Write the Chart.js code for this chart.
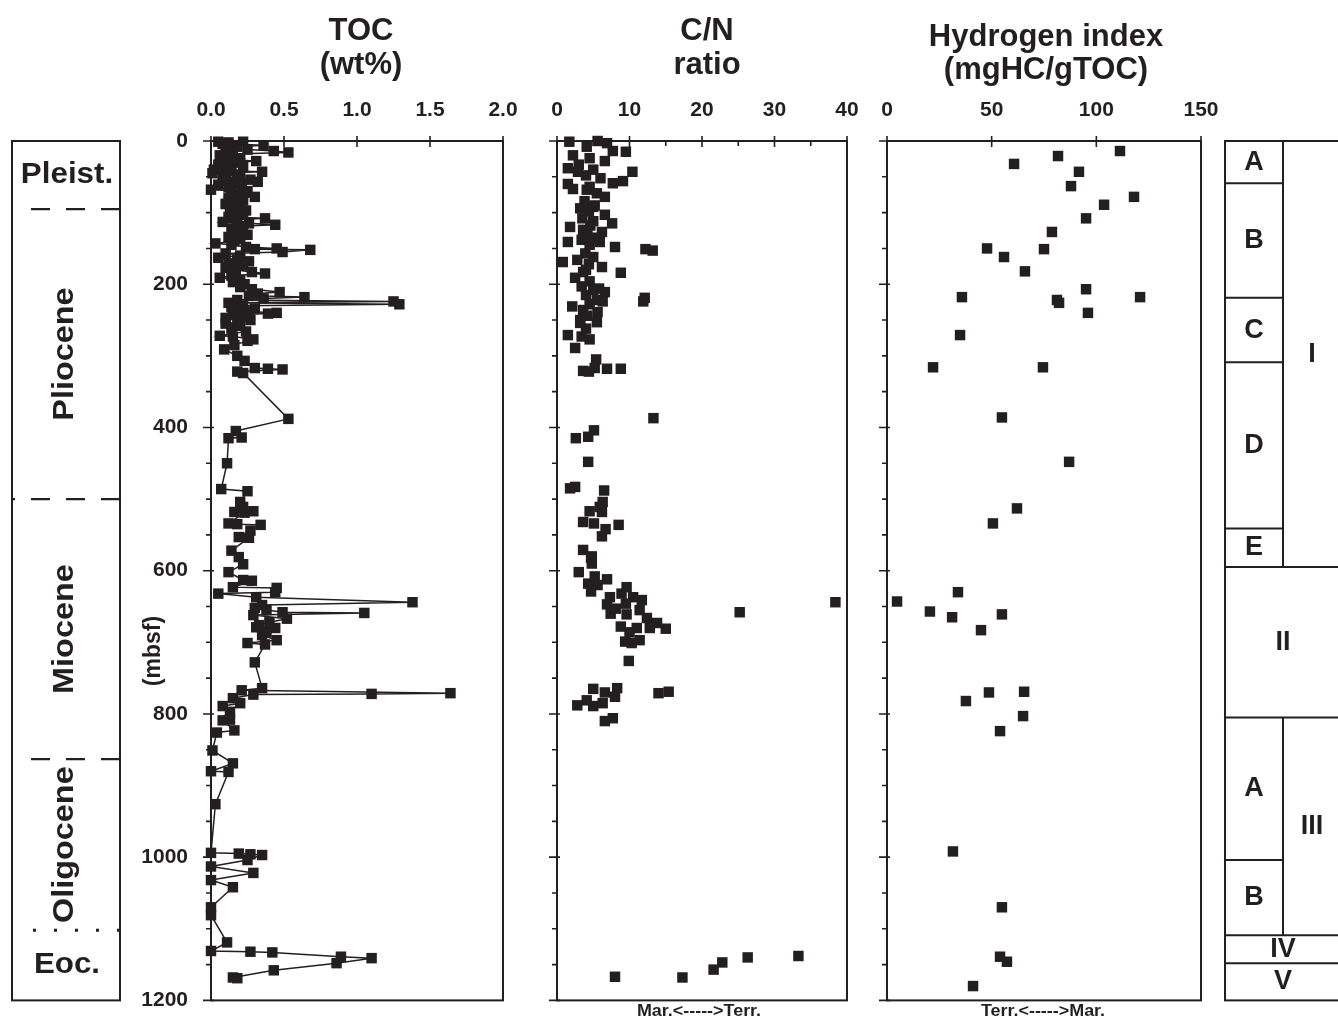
<!DOCTYPE html>
<html><head><meta charset="utf-8">
<script src="https://cdn.jsdelivr.net/npm/chart.js@4/dist/chart.umd.min.js"></script>
<style>
html,body{margin:0;padding:0;background:#fff;}
#wrap{position:relative;width:1338px;height:1021px;overflow:hidden;background:#fff;}
canvas{position:absolute;left:0;top:0;}
</style></head><body>
<div id="wrap">
<canvas id="c1" width="1338" height="1036"></canvas>
<canvas id="c2" width="1338" height="1036"></canvas>
<canvas id="c3" width="1338" height="1036"></canvas>
</div>
<script>
// ---------------- DATA ----------------
const depthMin = 0, depthMax = 1200;
const tocTicks = [0, 0.5, 1.0, 1.5, 2.0];
const cnTicks = [0, 10, 20, 30, 40];
const hiTicks = [0, 50, 100, 150];

const tocDepths = [1,1,2,4,6,8,10,12,14,16,18,20,22,24,26,28,30,33,35,38,40,42,43,45,47,49,52,54,56,57,59,61,63,65,68,70,72,75,78,80,83,86,88,91,94,97,100,103,106,108,110,113,115,117,119,122,125,128,131,134,137,140,143,145,148,150,151,152,155,157,160,163,166,168,171,174,177,180,183,185,188,191,194,197,200,204,207,211,213,216,218,220,222,224,226,228,230,232,234,236,238,240,241,243,245,247,250,253,255,258,262,266,272,273,277,279,285,291,300,307,317,318,319,322,324,388,405,414,415,450,486,489,504,511,517,518,519,534,535,536,544,553,554,572,581,591,602,613,614,623,624,630,632,637,644,648,652,655,658,659,662,667,672,676,679,680,686,690,697,701,703,728,764,767,771,772,773,778,785,789,797,808,809,823,826,851,869,880,881,926,994,995,996,997,1004,1013,1022,1032,1042,1070,1081,1119,1131,1132,1133,1139,1141,1148,1158,1168,1169];
const tocValues = [0.05,0.22,0.12,0.08,0.36,0.18,0.10,0.25,0.43,0.53,0.15,0.06,0.12,0.20,0.09,0.31,0.16,0.05,0.22,0.11,0.02,0.14,0.35,0.01,0.20,0.08,0.18,0.27,0.10,0.32,0.15,0.05,0.21,0.12,0.00,0.25,0.14,0.19,0.30,0.12,0.22,0.16,0.10,0.20,0.13,0.24,0.15,0.22,0.12,0.37,0.18,0.08,0.26,0.44,0.20,0.14,0.22,0.17,0.25,0.12,0.20,0.16,0.03,0.14,0.24,0.45,0.30,0.68,0.49,0.10,0.20,0.05,0.18,0.26,0.12,0.22,0.10,0.17,0.28,0.37,0.14,0.06,0.20,0.15,0.23,0.20,0.28,0.47,0.32,0.26,0.64,0.36,0.18,1.25,0.12,1.29,0.22,0.14,0.30,0.20,0.26,0.45,0.39,0.15,0.22,0.10,0.27,0.18,0.10,0.20,0.14,0.24,0.06,0.15,0.29,0.25,0.16,0.09,0.18,0.23,0.30,0.39,0.49,0.18,0.22,0.53,0.17,0.21,0.12,0.11,0.07,0.25,0.20,0.22,0.29,0.16,0.23,0.12,0.18,0.34,0.27,0.19,0.26,0.14,0.19,0.22,0.12,0.22,0.28,0.15,0.45,0.44,0.05,0.31,1.38,0.35,0.30,0.38,0.49,1.05,0.29,0.52,0.40,0.33,0.31,0.44,0.38,0.35,0.45,0.25,0.37,0.30,0.35,0.21,1.64,1.10,0.29,0.15,0.20,0.08,0.13,0.13,0.08,0.16,0.04,0.01,0.15,0.00,0.12,0.03,0.00,0.19,0.27,0.35,0.25,0.00,0.29,0.00,0.15,0.00,0.00,0.11,0.00,0.27,0.42,0.89,1.10,0.86,0.43,0.15,0.18];

const cnDepths = [0,1,3,8,14,15,20,24,28,33,38,40,43,43,48,52,56,59,60,64,67,68,73,78,84,90,92,94,98,103,108,112,115,118,120,124,127,131,135,138,141,141,145,148,151,153,157,162,166,169,172,176,180,183,184,191,196,203,206,208,211,215,219,222,224,224,228,231,236,239,244,250,253,254,262,271,273,277,289,305,317,318,318,321,322,387,404,413,415,448,483,485,488,504,511,517,518,532,534,536,542,552,571,580,582,590,602,608,612,618,620,623,629,632,637,637,641,644,646,647,653,655,658,660,661,666,673,678,680,680,681,686,697,699,701,726,764,765,769,770,771,776,781,785,788,789,806,810,1138,1140,1147,1157,1167,1168];
const cnValues = [5.6,1.7,6.9,4.1,7.7,9.5,2.2,4.5,6.6,3.0,1.5,5.0,2.9,10.4,4.0,6.0,9.1,7.7,1.5,4.5,2.2,4.1,5.5,6.6,3.8,5.2,5.0,3.2,4.4,6.6,3.5,5.0,7.6,4.6,1.8,3.6,6.2,4.2,5.5,3.4,1.5,5.9,4.5,8.0,12.2,13.2,3.9,5.0,2.8,0.8,4.4,6.2,4.0,3.6,8.8,2.5,4.5,3.4,5.8,5.0,6.6,4.0,12.1,5.5,11.9,6.3,4.5,2.1,3.6,5.6,4.2,3.2,5.5,3.2,4.0,1.5,3.4,4.5,2.5,5.4,5.2,6.9,8.8,3.6,4.4,13.3,5.1,4.3,2.6,4.3,2.5,1.8,6.5,6.3,5.9,4.5,6.2,3.6,5.1,8.5,6.7,6.2,3.6,4.8,4.7,4.8,3.0,5.2,6.9,4.3,5.6,9.6,4.7,8.9,7.3,10.5,11.7,38.4,9.5,6.9,8.1,11.4,25.2,7.4,9.6,12.4,13.8,8.8,12.8,11.0,15.0,10.0,11.4,9.4,10.3,9.9,8.3,5.0,15.4,6.6,14.0,8.0,4.1,6.3,2.8,5.0,7.7,6.6,33.3,26.3,22.8,21.6,8.0,17.3];

const hiDepths = [14,21,32,43,63,78,89,108,127,150,151,162,182,207,218,218,222,226,240,271,316,316,386,448,513,534,630,643,657,661,665,683,769,770,782,803,824,992,1070,1139,1146,1180];
const hiValues = [111.3,81.7,60.7,91.7,87.9,118.0,103.7,95.1,78.8,47.8,75.0,55.9,65.9,95.1,35.8,120.9,81.2,82.2,96.0,34.9,22.0,74.5,54.9,87.0,62.1,50.6,33.9,4.8,20.5,54.9,31.1,44.9,65.5,48.7,37.7,65.0,54.0,31.5,54.9,54.0,57.3,41.1];

// stratigraphy (left column): epochs and their depth boundaries (mbsf)
const epochNames = ['Pleist.', 'Pliocene', 'Miocene', 'Oligocene', 'Eoc.'];
const epochTops = [0, 95, 500, 863, 1102];
const epochBottoms = [95, 500, 863, 1102, 1200];
const epochVertical = [false, true, true, true, false];
const boundaryStyle = ['dash', 'dash', 'dash', 'dot'];

// lithologic units (right column)
const unitNames = ['I', 'II', 'III', 'IV', 'V'];
const unitTops = [0, 595, 805, 1109, 1148];
const unitBottoms = [595, 805, 1109, 1148, 1200];
const subUnitNames = ['A', 'B', 'C', 'D', 'E', 'A', 'B'];
const subUnitTops = [0, 59, 219, 309, 541, 805, 1004];
const subUnitBottoms = [59, 219, 309, 541, 595, 1004, 1109];

// ---------------- STYLE / HELPERS ----------------
const FONT = '"Liberation Sans", Arial, Helvetica, sans-serif';
const INK = '#231f20';

function pts(depths, vals) { return depths.map((d, i) => ({ x: vals[i], y: d })); }

function txt(ctx, s, x, y, size, rot, stretch) {
  ctx.save();
  ctx.font = 'bold ' + size + 'px ' + FONT;
  ctx.fillStyle = INK;
  ctx.textAlign = 'center';
  ctx.textBaseline = 'middle';
  ctx.translate(x, y);
  if (rot) ctx.rotate(rot);
  if (stretch) ctx.scale(stretch, 1);
  ctx.fillText(s, 0, 0);
  ctx.restore();
}

const frameTicks = {
  id: 'frameTicks',
  beforeDatasetsDraw(chart, args, o) {
    const { ctx, chartArea: a } = chart;
    const x = chart.scales.x, y = chart.scales.y;
    ctx.save();
    ctx.strokeStyle = INK;
    ctx.lineWidth = 2;
    ctx.strokeRect(a.left, a.top, a.right - a.left, a.bottom - a.top);
    ctx.lineWidth = 1.6;
    ctx.beginPath();
    x.ticks.forEach(t => {
      const px = x.getPixelForValue(t.value);
      const r = t.value / o.xMajor;
      if (Math.abs(r - Math.round(r)) < 1e-6) { ctx.moveTo(px, a.top - 5); ctx.lineTo(px, a.top + 6); }
      else { ctx.moveTo(px, a.top); ctx.lineTo(px, a.top + 5); }
    });
    y.ticks.forEach(t => {
      const py = y.getPixelForValue(t.value);
      if (t.value % 200 === 0) { ctx.moveTo(a.left - 8, py); ctx.lineTo(a.left + 3, py); }
      else { ctx.moveTo(a.left - 5, py); ctx.lineTo(a.left, py); }
    });
    ctx.stroke();
    ctx.restore();
  }
};

function baseOptions(pad, xMin, xMax, xStep, xMajor, xFmt, showY) {
  return {
    responsive: false, animation: false, events: [],
    layout: { padding: pad },
    plugins: { legend: { display: false }, tooltip: { enabled: false }, frameTicks: { xMajor: xMajor } },
    scales: {
      x: {
        type: 'linear', position: 'top', min: xMin, max: xMax,
        grid: { display: false, drawTicks: false }, border: { display: false },
        ticks: { stepSize: xStep, autoSkip: false, maxRotation: 0, padding: 18, color: INK,
          font: { family: FONT, size: 21, weight: 'bold' }, callback: xFmt },
        afterFit: s => { s.height = 141; }
      },
      y: {
        type: 'linear', reverse: true, min: depthMin, max: depthMax,
        grid: { display: false, drawTicks: false }, border: { display: false },
        ticks: { stepSize: 50, autoSkip: false, padding: 23, color: INK,
          font: { family: FONT, size: 21, weight: 'bold' },
          callback: v => (showY && v % 200 === 0) ? String(v) : '' },
        afterFit: s => { s.width = showY ? 100 : 10; }
      }
    }
  };
}

function ds(data, line) {
  return {
    data: data, showLine: line, borderColor: INK, borderWidth: 1.5,
    backgroundColor: INK, pointStyle: 'rect', pointRadius: 7.4, pointBorderWidth: 0,
    pointBackgroundColor: INK, clip: false
  };
}

// ---------------- CHART 1: TOC + left stratigraphic column ----------------
const tocDecor = {
  id: 'tocDecor',
  afterDraw(chart) {
    const ctx = chart.ctx, y = chart.scales.y;
    txt(ctx, 'TOC', 361, 31, 31);
    txt(ctx, '(wt%)', 361, 65, 31);
    txt(ctx, '(mbsf)', 154, 651, 23, -Math.PI / 2);
    // left column
    const L = 12, R = 120;
    const top = y.getPixelForValue(depthMin), bot = y.getPixelForValue(depthMax);
    ctx.save();
    ctx.strokeStyle = INK; ctx.lineWidth = 2;
    ctx.strokeRect(L, top, R - L, bot - top);
    boundaryStyle.forEach((st, i) => {
      const py = y.getPixelForValue(epochBottoms[i]);
      ctx.beginPath();
      if (st === 'dash') { ctx.setLineDash([19, 16]); ctx.lineWidth = 2.2; }
      else { ctx.setLineDash([3, 18]); ctx.lineWidth = 3; }
      ctx.moveTo(R, py); ctx.lineTo(i === 1 ? L : 28, py);
      ctx.stroke();
    });
    ctx.restore();
    epochNames.forEach((n, i) => {
      const cy = (y.getPixelForValue(epochTops[i]) + y.getPixelForValue(epochBottoms[i])) / 2;
      if (epochVertical[i]) txt(ctx, n, 65, cy, 30, -Math.PI / 2, 1.08);
      else txt(ctx, n, 67, cy, 29, 0, 1.08);
    });
  }
};

new Chart(document.getElementById('c1'), {
  type: 'scatter',
  data: { datasets: [ds(pts(tocDepths, tocValues), true)] },
  options: baseOptions({ left: 111, right: 835, top: 0, bottom: 21 }, 0, 2, 0.5, 0.5, v => v.toFixed(1), true),
  plugins: [frameTicks, tocDecor]
});

// ---------------- CHART 2: C/N ----------------
const cnDecor = {
  id: 'cnDecor',
  afterDraw(chart) {
    const ctx = chart.ctx;
    txt(ctx, 'C/N', 707, 31, 31);
    txt(ctx, 'ratio', 707, 65, 31);
    txt(ctx, 'Mar.<----->Terr.', 699, 1012, 16, 0, 1.12);
  }
};
new Chart(document.getElementById('c2'), {
  type: 'scatter',
  data: { datasets: [ds(pts(cnDepths, cnValues), false)] },
  options: baseOptions({ left: 547, right: 491, top: 0, bottom: 21 }, 0, 40, 5, 10, v => (v % 10 === 0 ? String(v) : ''), false),
  plugins: [frameTicks, cnDecor]
});

// ---------------- CHART 3: Hydrogen index + right unit column ----------------
const hiDecor = {
  id: 'hiDecor',
  afterDraw(chart) {
    const ctx = chart.ctx, y = chart.scales.y;
    txt(ctx, 'Hydrogen index', 1046, 37, 31);
    txt(ctx, '(mgHC/gTOC)', 1046, 70, 31);
    txt(ctx, 'Terr.<----->Mar.', 1043, 1012, 16, 0, 1.12);
    const L = 1225, M = 1283, R = 1341;
    const top = y.getPixelForValue(depthMin), bot = y.getPixelForValue(depthMax);
    ctx.save();
    ctx.strokeStyle = INK; ctx.lineWidth = 2;
    ctx.strokeRect(L, top, R - L + 10, bot - top);
    ctx.beginPath();
    unitTops.forEach((t, i) => {
      if (i > 0) { const py = y.getPixelForValue(t); ctx.moveTo(L, py); ctx.lineTo(R + 10, py); }
    });
    subUnitTops.forEach(t => {
      if (unitTops.indexOf(t) < 0) { const py = y.getPixelForValue(t); ctx.moveTo(L, py); ctx.lineTo(M, py); }
    });
    unitNames.forEach((n, i) => {
      const hasSub = subUnitTops.some(t => t >= unitTops[i] && t < unitBottoms[i]);
      if (hasSub) { ctx.moveTo(M, y.getPixelForValue(unitTops[i])); ctx.lineTo(M, y.getPixelForValue(unitBottoms[i])); }
    });
    ctx.stroke();
    ctx.restore();
    subUnitNames.forEach((n, i) => {
      const cy = (y.getPixelForValue(subUnitTops[i]) + y.getPixelForValue(subUnitBottoms[i])) / 2;
      txt(ctx, n, (L + M) / 2, cy, 27);
    });
    unitNames.forEach((n, i) => {
      const cy = (y.getPixelForValue(unitTops[i]) + y.getPixelForValue(unitBottoms[i])) / 2;
      const hasSub = subUnitTops.some(t => t >= unitTops[i] && t < unitBottoms[i]);
      txt(ctx, n, hasSub ? (M + R) / 2 : (L + R) / 2, cy, 27);
    });
  }
};
new Chart(document.getElementById('c3'), {
  type: 'scatter',
  data: { datasets: [ds(pts(hiDepths, hiValues), false)] },
  options: baseOptions({ left: 877, right: 137, top: 0, bottom: 21 }, 0, 150, 50, 50, v => String(v), false),
  plugins: [frameTicks, hiDecor]
});
</script>
</body></html>
